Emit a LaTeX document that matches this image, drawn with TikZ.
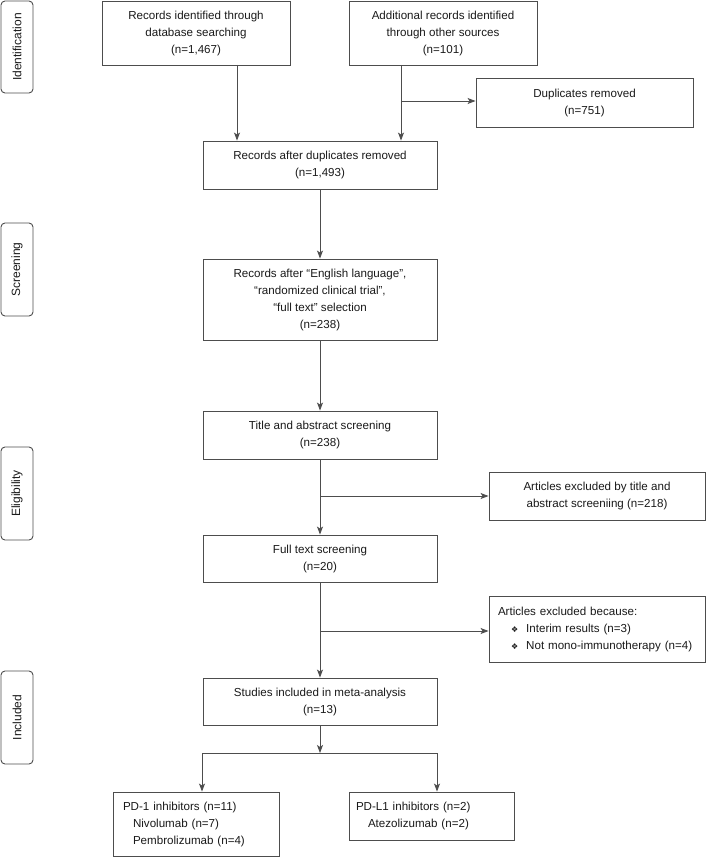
\documentclass[tikz,border=0pt]{standalone}
\usepackage{fontspec}
\setmainfont{Liberation Sans}
\newfontfamily\dejavu{DejaVu Sans}
\usetikzlibrary{arrows.meta}
\definecolor{edge}{HTML}{4D4D4D}
\definecolor{ink}{HTML}{1A1A1A}
\newcommand{\bul}{{\dejavu\fontsize{8}{8}\selectfont ❖}}
\tikzset{
  box/.style={draw=edge, line width=0.9pt, rectangle, inner sep=0pt, align=center, text=ink, font=\fontsize{11.6}{17}\selectfont},
  side/.style={draw=edge, line width=0.9pt, rounded corners=4pt, inner sep=0pt, minimum height=32pt, rotate=90, font=\fontsize{12}{14}\selectfont, text=ink},
  arr/.style={draw=edge, line width=0.9pt, -{Stealth[length=8pt,width=6pt,inset=2pt]}},
  ln/.style={draw=edge, line width=0.9pt},
}
\begin{document}
\begin{tikzpicture}[x=1pt,y=-1pt]
\fill[white] (0,0) rectangle (706,859);
\useasboundingbox (0,0) rectangle (706,859);

% phase labels
\node[side, minimum width=92pt] (sid) at (17,47) {Identification};
\node[side, minimum width=93pt] (sscr) at (17,269.5) {Screening};
\node[side, minimum width=93pt] (selig) at (17,493.5) {Eligibility};
\node[side, minimum width=93pt] (sinc) at (17,717.5) {Included};

% boxes
\node[box, minimum width=188pt, minimum height=64pt] (rid) at (196,33) {Records identified through\\database searching\\(n=1,467)};
\node[box, minimum width=188pt, minimum height=64pt] (add) at (443,33) {Additional records identified\\through other sources\\(n=101)};
\node[box, minimum width=217pt, minimum height=49pt] (dup) at (584.5,102.5) {Duplicates removed\\(n=751)};
\node[box, minimum width=234pt, minimum height=48pt] (rad) at (320,165) {Records after duplicates removed\\(n=1,493)};
\node[box, minimum width=234pt, minimum height=81pt] (reng) at (320,299.5) {Records after “English language”,\\“randomized clinical trial”,\\“full text” selection\\(n=238)};
\node[box, minimum width=234pt, minimum height=48pt] (tas) at (320,435) {Title and abstract screening\\(n=238)};
\node[box, minimum width=216pt, minimum height=48pt] (exa) at (597,496) {Articles excluded by title and\\abstract screeniing (n=218)};
\node[box, minimum width=234pt, minimum height=47pt] (fts) at (320,558.5) {Full text screening\\(n=20)};
\node[box, minimum width=216pt, minimum height=66pt, align=left, text width=198pt] (exb) at (597,629) {Articles excluded because:\\\hspace*{13pt}\bul\hspace{8pt}Interim results (n=3)\\\hspace*{13pt}\bul\hspace{8pt}Not mono-immunotherapy (n=4)};
\node[box, minimum width=234pt, minimum height=47pt] (sim) at (320,701.5) {Studies included in meta-analysis\\(n=13)};
\node[box, minimum width=166pt, minimum height=64pt, align=left, text width=146pt] (pda) at (196,824) {PD-1 inhibitors (n=11)\\\hspace*{10pt}Nivolumab (n=7)\\\hspace*{10pt}Pembrolizumab (n=4)};
\node[box, minimum width=165pt, minimum height=48pt, align=left, text width=151pt] (pdb) at (431.5,816) {PD-L1 inhibitors (n=2)\\\hspace*{12pt}Atezolizumab (n=2)};

% connectors
\coordinate (la) at (237,65);
\coordinate (ra) at (401,65);
\coordinate (dbr) at (401,101);
\draw[arr] (la) -- (la |- rad.north);
\draw[arr] (ra) -- (ra |- rad.north);
\draw[arr] (dbr) -- (dbr -| dup.west);
\draw[arr] (rad.south) -- (reng.north);
\draw[arr] (reng.south) -- (tas.north);
\draw[arr] (tas.south) -- (fts.north);
\coordinate (b1) at (320,496);
\draw[arr] (b1) -- (b1 -| exa.west);
\draw[arr] (fts.south) -- (sim.north);
\coordinate (b2) at (320,631);
\draw[arr] (b2) -- (b2 -| exb.west);
\coordinate (sp) at (320,753);
\coordinate (spl) at (202,753);
\coordinate (spr) at (437,753);
\draw[arr] (sim.south) -- (sp);
\draw[ln] (spl) -- (spr);
\draw[arr] (spl) -- (spl |- pda.north);
\draw[arr] (spr) -- (spr |- pdb.north);
\end{tikzpicture}
\end{document}
